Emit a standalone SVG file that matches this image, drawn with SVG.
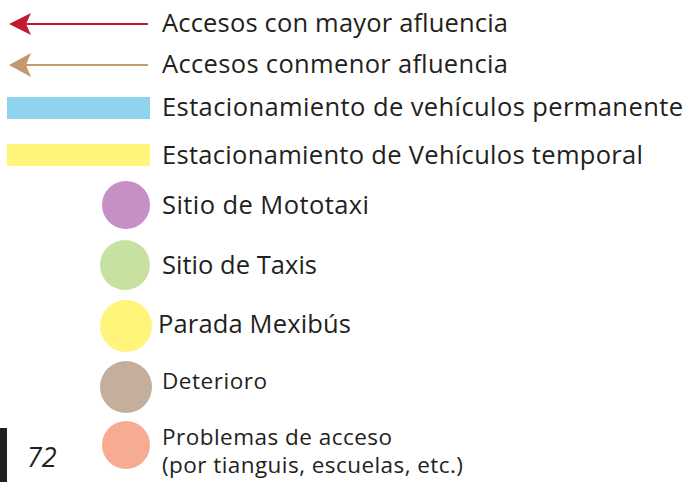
<svg xmlns="http://www.w3.org/2000/svg" width="689" height="482" viewBox="0 0 689 482">
<style>
text{font-family:"Open Sans","Liberation Sans",sans-serif;fill:#231f20}
.l{font-size:25.5px}
.s{font-size:22.5px}
</style>
<rect width="689" height="482" fill="#fff"/>
<g id="legend-arrow-major">
<line x1="24" y1="24" x2="148" y2="24" stroke="#c3192f" stroke-width="2.2"/>
<polygon points="9,24 31,13 26,24 31,35" fill="#c3192f"/>
<text class="l" x="162" y="32" textLength="346">Accesos con mayor afluencia</text>
</g>
<g id="legend-arrow-minor">
<line x1="24" y1="65" x2="148" y2="65" stroke="#c49a6c" stroke-width="2.2"/>
<polygon points="9,65 31,53 26,65 31,77" fill="#c49a6c"/>
<text class="l" x="162" y="73" textLength="346">Accesos conmenor afluencia</text>
</g>
<g id="legend-parking-perm">
<rect x="7" y="97" width="143" height="22" fill="#90d3ef"/>
<text class="l" x="162" y="116" textLength="521">Estacionamiento de vehículos permanente</text>
</g>
<g id="legend-parking-temp">
<rect x="7" y="144" width="143" height="22" fill="#fef57a"/>
<text class="l" x="162" y="164" textLength="481">Estacionamiento de Vehículos temporal</text>
</g>
<g id="legend-mototaxi">
<circle cx="126" cy="205" r="24" fill="#c68fc5"/>
<text class="l" x="162" y="214" textLength="207">Sitio de Mototaxi</text>
</g>
<g id="legend-taxis">
<circle cx="125" cy="265" r="25" fill="#c6e1a0"/>
<text class="l" x="162" y="274" textLength="155">Sitio de Taxis</text>
</g>
<g id="legend-mexibus">
<circle cx="126" cy="326" r="26" fill="#fef57a"/>
<text class="l" x="158" y="333" textLength="193">Parada Mexibús</text>
</g>
<g id="legend-deterioro">
<circle cx="126" cy="387" r="26" fill="#c4ae9c"/>
<text class="s" x="162" y="389" textLength="105">Deterioro</text>
</g>
<g id="legend-problemas">
<circle cx="126" cy="445" r="24" fill="#f8ab93"/>
<text class="s" x="162" y="445" textLength="230">Problemas de acceso</text>
<text class="s" x="162" y="473" textLength="301">(por tianguis, escuelas, etc.)</text>
</g>
<g id="page-number">
<rect x="0" y="428" width="7" height="54" fill="#231f20"/>
<text x="27" y="467" font-size="27" font-style="italic">72</text>
</g>
</svg>
